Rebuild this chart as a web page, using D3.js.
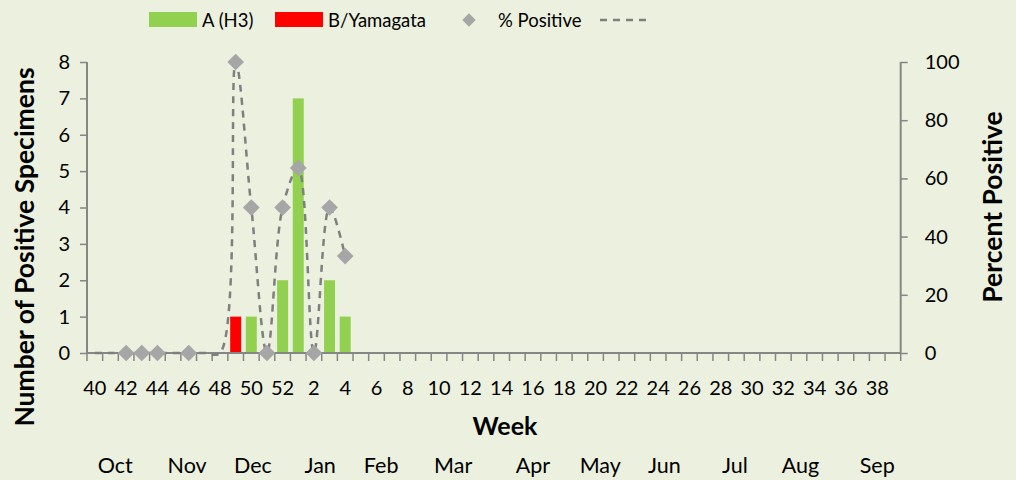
<!DOCTYPE html>
<html>
<head>
<meta charset="utf-8">
<script src="https://cdn.jsdelivr.net/npm/d3@7"></script>
<style>
  body { margin: 0; background: #ebf0df; }
  svg { display: block; font-family: Lato, "Liberation Sans", sans-serif; }
</style>
</head>
<body>
<script>
// data
var weeks = [40, 41, 42, 43, 44, 45, 46, 47, 48, 49, 50, 51, 52,
	1, 2, 3, 4, 5, 6, 7, 8, 9, 10, 11, 12, 13, 14, 15, 16, 17, 18, 19, 20,
	21, 22, 23, 24, 25, 26, 27, 28, 29, 30, 31, 32, 33, 34, 35, 36, 37, 38, 39];
var weekLabels = ['40', '42', '44', '46', '48', '50', '52', '2', '4', '6', '8', '10', '12', '14', '16',
	'18', '20', '22', '24', '26', '28', '30', '32', '34', '36', '38'];
// counts by week (only weeks with a non-zero value listed)
var aH3 = { 50: 1, 52: 2, 1: 7, 3: 2, 4: 1 };
var bYamagata = { 49: 1 };
// % positive markers and the dashed line series
var pctMarkers = { 42: 0, 43: 0, 44: 0, 46: 0, 49: 100, 50: 50, 51: 0, 52: 50, 1: 63.6, 2: 0, 3: 50, 4: 33.3 };
var pctLine = { 40: 0, 41: 0, 42: 0, 43: 0, 44: 0, 45: 0, 46: 0, 47: 0, 48: 0,
	49: 100, 50: 50, 51: 0, 52: 50, 1: 63.6, 2: 0, 3: 50, 4: 33.3 };
var months = ['Oct', 'Nov', 'Dec', 'Jan', 'Feb', 'Mar', 'Apr', 'May', 'Jun', 'Jul', 'Aug', 'Sep'];
var monthAt = [1.8, 6.4, 10.6, 14.9, 18.8, 23.4, 28.5, 32.8, 36.9, 41.4, 45.6, 50.5]; // in week slots
var leftTicks = [0, 1, 2, 3, 4, 5, 6, 7, 8];
var rightTicks = [0, 20, 40, 60, 80, 100];

var W = 1016, H = 480;
var plotL = 87, plotR = 900.7, plotT = 62, plotB = 353;
var axisColor = '#868686';

var svg = d3.select('body').append('svg')
	.attr('width', W)
	.attr('height', H);

svg.append('rect').attr('width', W).attr('height', H).attr('fill', '#ebf0df');

var x = d3.scaleBand().domain(weeks).range([plotL, plotR]).padding(0);
var slot = d3.scaleLinear().domain([0, weeks.length]).range([plotL, plotR]);
var y = d3.scaleLinear().domain([0, 8]).range([plotB, plotT]);
var y2 = d3.scaleLinear().domain([0, 100]).range([plotB, plotT]);

// bars
var barW = x.bandwidth() * 0.7;
function drawBars (obj, color) {
	var rows = weeks.filter(function (w) { return obj[w]; })
		.map(function (w) { return { week: w, v: obj[w] }; });
	svg.append('g').selectAll('rect')
		.data(rows)
		.enter().append('rect')
		.attr('x', function (d) { return x(d.week) + (x.bandwidth() - barW) / 2; })
		.attr('y', function (d) { return y(d.v); })
		.attr('width', barW)
		.attr('height', function (d) { return plotB - y(d.v); })
		.attr('fill', color);
}
drawBars(aH3, '#92d050');
drawBars(bYamagata, '#ff0000');

// axes
var gx = svg.append('g').attr('transform', 'translate(0,' + plotB + ')');
gx.append('line').attr('x1', plotL).attr('x2', plotR).attr('stroke', axisColor).attr('stroke-width', 2);
gx.selectAll('.tk')
	.data(d3.range(weeks.length + 1))
	.enter().append('line')
	.attr('x1', function (i) { return slot(i); })
	.attr('x2', function (i) { return slot(i); })
	.attr('y1', 0).attr('y2', 8)
	.attr('stroke', axisColor).attr('stroke-width', 1.5);
gx.selectAll('.lbl')
	.data(weekLabels)
	.enter().append('text')
	.attr('x', function (d, i) { return slot(i * 2 + 0.5); })
	.attr('y', 42)
	.attr('text-anchor', 'middle')
	.attr('font-size', 20)
	.text(function (d) { return d; });

var yAxis = d3.axisLeft(y).tickValues(leftTicks).tickSize(7).tickPadding(10);
var gy = svg.append('g').attr('transform', 'translate(' + plotL + ',0)').call(yAxis);
var y2Axis = d3.axisRight(y2).tickValues(rightTicks).tickSize(7).tickPadding(17);
var gy2 = svg.append('g').attr('transform', 'translate(' + plotR + ',0)').call(y2Axis);
[gy, gy2].forEach(function (g) {
	g.select('.domain').attr('stroke', axisColor).attr('stroke-width', 2)
		.attr('d', 'M0,' + plotT + 'V' + plotB);
	g.selectAll('.tick line').attr('stroke', axisColor).attr('stroke-width', 1.5);
	g.selectAll('.tick text').attr('font-size', 20).attr('font-family', 'Lato').attr('fill', '#000');
});

// % positive line
var lineRows = weeks.filter(function (w) { return pctLine[w] !== undefined; })
	.map(function (w) { return { week: w, v: pctLine[w] }; });
var line = d3.line()
	.x(function (d) { return x(d.week) + x.bandwidth() / 2; })
	.y(function (d) { return y2(d.v); })
	.curve(d3.curveCatmullRom.alpha(0.5));
svg.append('path')
	.datum(lineRows)
	.attr('d', line)
	.attr('fill', 'none')
	.attr('stroke', '#7f7f7f')
	.attr('stroke-width', 2.5)
	.attr('stroke-dasharray', '7,6');

// markers
var markRows = weeks.filter(function (w) { return pctMarkers[w] !== undefined; })
	.map(function (w) { return { week: w, v: pctMarkers[w] }; });
var diamond = d3.symbol().type(d3.symbolSquare).size(140);
svg.append('g').selectAll('path')
	.data(markRows)
	.enter().append('path')
	.attr('d', diamond)
	.attr('transform', function (d) {
		return 'translate(' + (x(d.week) + x.bandwidth() / 2) + ',' + y2(d.v) + ') rotate(45)';
	})
	.attr('fill', '#a6a6a6');

// titles
svg.append('text')
	.attr('transform', 'translate(34,247) rotate(-90)')
	.attr('text-anchor', 'middle')
	.attr('font-size', 26.5).attr('font-weight', 'bold')
	.text('Number of Positive Specimens');
svg.append('text')
	.attr('transform', 'translate(1002,207) rotate(-90)')
	.attr('text-anchor', 'middle')
	.attr('font-size', 26.5).attr('font-weight', 'bold')
	.text('Percent Positive');
svg.append('text')
	.attr('x', 505).attr('y', 435)
	.attr('text-anchor', 'middle')
	.attr('font-size', 25).attr('font-weight', 'bold')
	.text('Week');

// months
svg.append('g').selectAll('text')
	.data(months)
	.enter().append('text')
	.attr('x', function (d, i) { return slot(monthAt[i]); })
	.attr('y', 473)
	.attr('text-anchor', 'middle')
	.attr('font-size', 21.5)
	.text(function (d) { return d; });

// legend
var lg = svg.append('g');
lg.append('rect').attr('x', 149).attr('y', 12).attr('width', 48).attr('height', 15).attr('fill', '#92d050');
lg.append('text').attr('x', 202).attr('y', 27).attr('font-size', 18.5).text('A (H3)');
lg.append('rect').attr('x', 275).attr('y', 12).attr('width', 48).attr('height', 15).attr('fill', '#ff0000');
lg.append('text').attr('x', 328).attr('y', 27).attr('font-size', 18.5).text('B/Yamagata');
lg.append('path').attr('d', d3.symbol().type(d3.symbolSquare).size(90))
	.attr('transform', 'translate(469,20) rotate(45)').attr('fill', '#a6a6a6');
lg.append('text').attr('x', 498).attr('y', 27).attr('font-size', 18.5).text('% Positive');
lg.append('line').attr('x1', 600).attr('x2', 646).attr('y1', 20).attr('y2', 20)
	.attr('stroke', '#7f7f7f').attr('stroke-width', 2.5).attr('stroke-dasharray', '7,6');
</script>
</body>
</html>
